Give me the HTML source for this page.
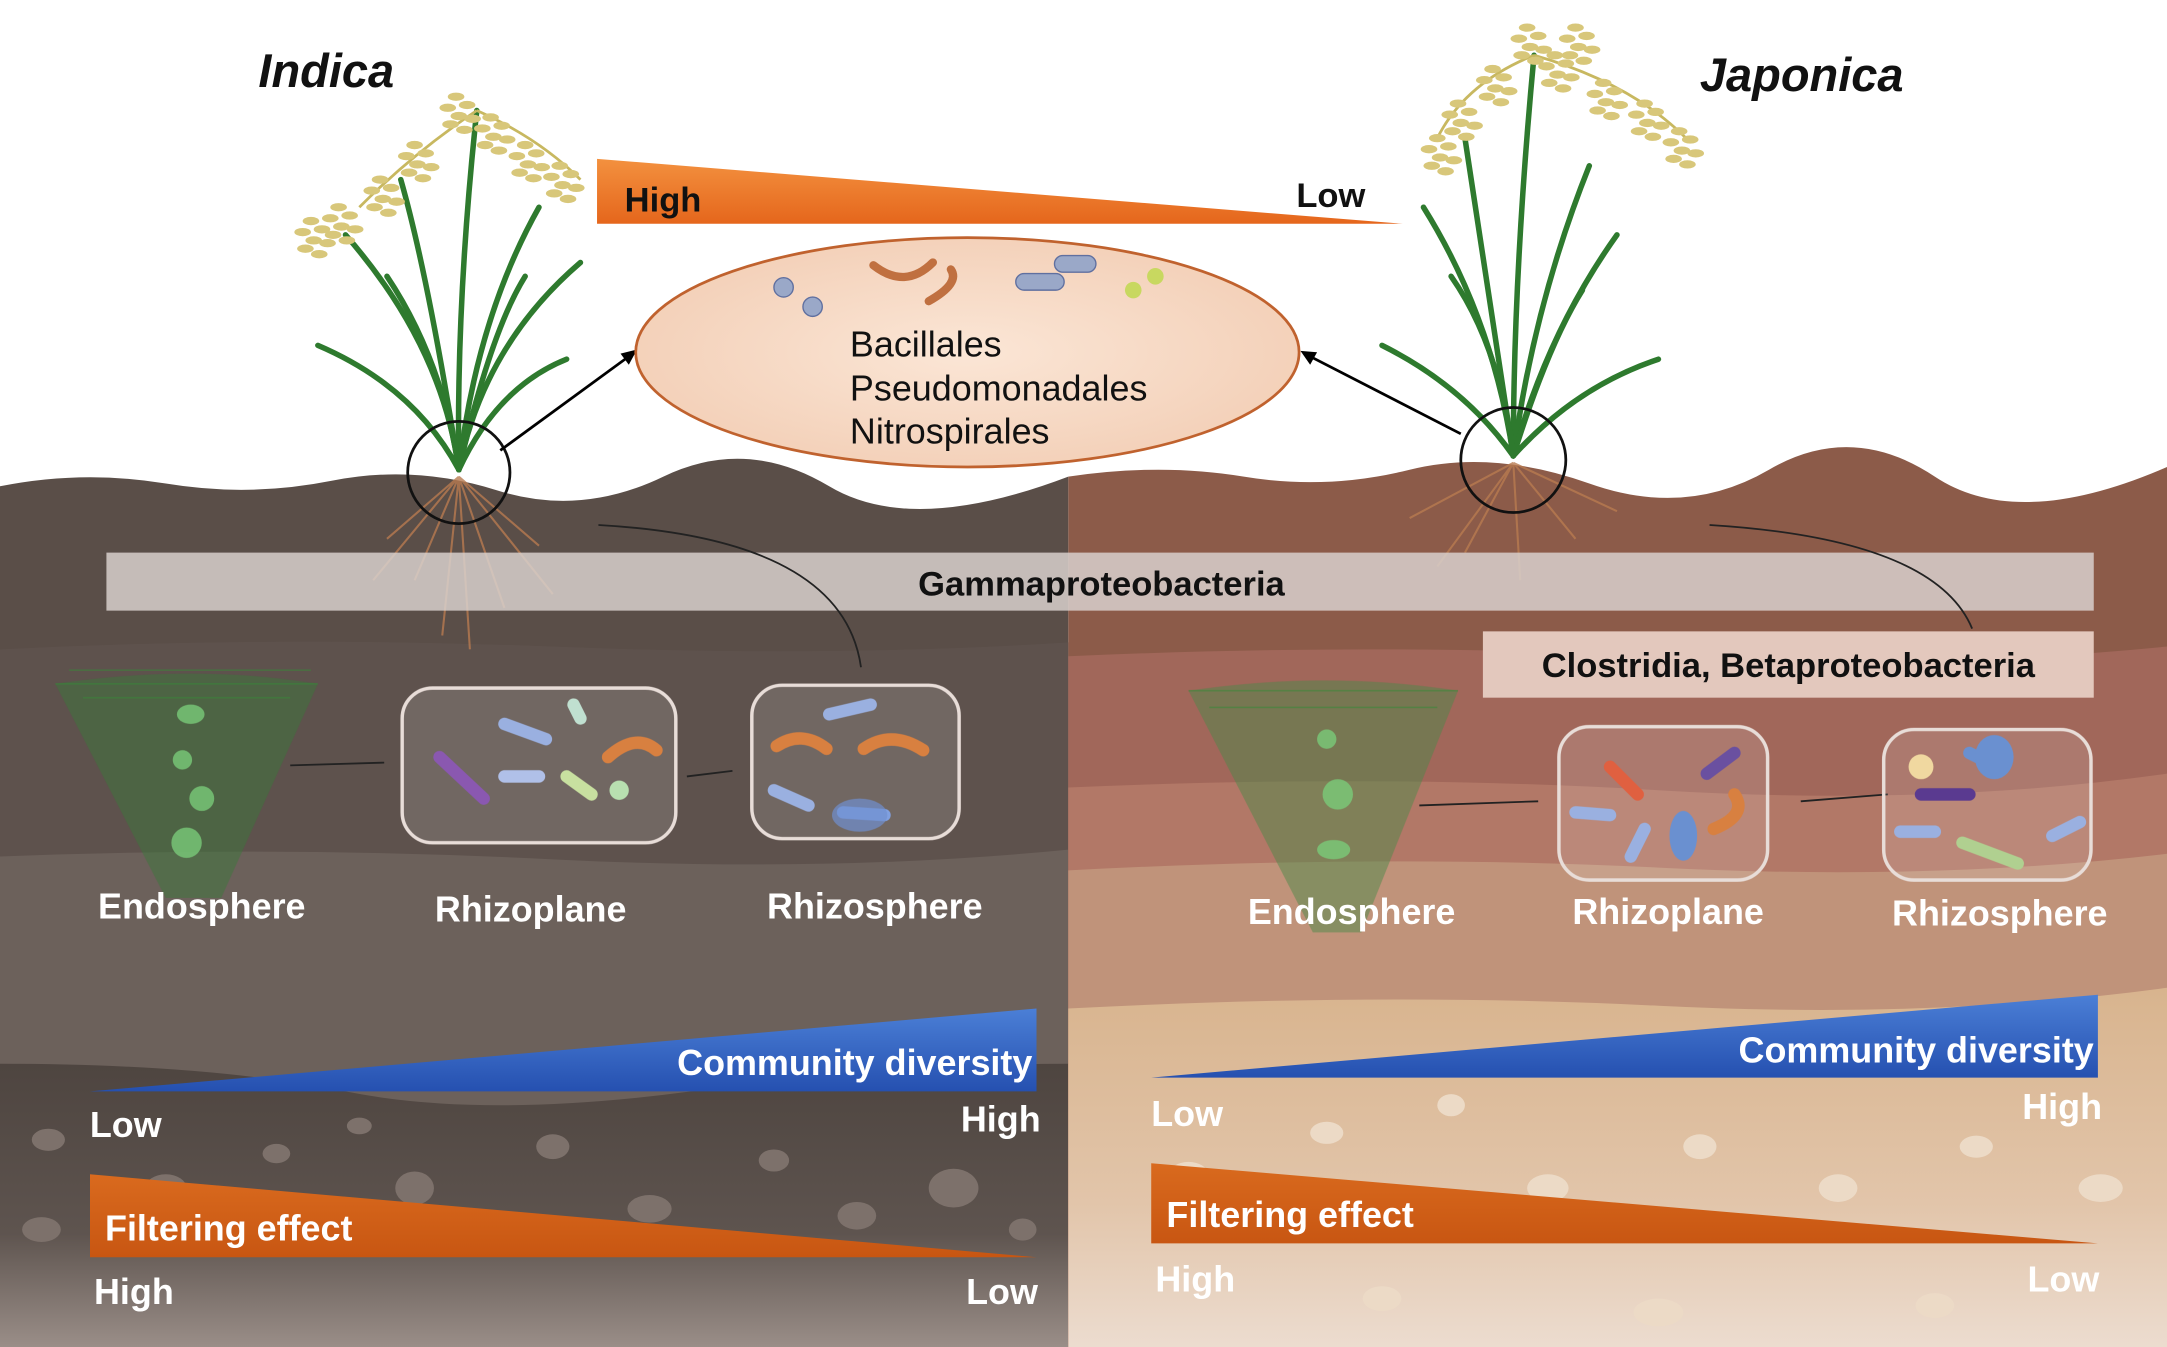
<!DOCTYPE html>
<html><head><meta charset="utf-8"><style>
html,body{margin:0;padding:0;background:#fff}
svg{display:block}
text{font-family:"Liberation Sans",Arial,sans-serif}
.w{fill:#fff;font-weight:bold;font-size:26px}
</style></head><body>
<svg width="2167" height="1347" viewBox="0 0 1568 975" preserveAspectRatio="none" xmlns="http://www.w3.org/2000/svg">
<defs>
<linearGradient id="or" x1="0" y1="0" x2="0" y2="1"><stop offset="0" stop-color="#f3913f"/><stop offset="1" stop-color="#e5661c"/></linearGradient>
<linearGradient id="or2" x1="0" y1="0" x2="0" y2="1"><stop offset="0" stop-color="#d96a1e"/><stop offset="1" stop-color="#c85612"/></linearGradient>
<linearGradient id="bl" x1="0" y1="0" x2="0" y2="1"><stop offset="0" stop-color="#4b7fd6"/><stop offset="1" stop-color="#2550b0"/></linearGradient>
<linearGradient id="lb" x1="0" y1="0" x2="0" y2="1"><stop offset="0" stop-color="#4e4540"/><stop offset="0.6" stop-color="#5e544f"/><stop offset="1" stop-color="#9a8e88"/></linearGradient>
<linearGradient id="rb" x1="0" y1="0" x2="0" y2="1"><stop offset="0" stop-color="#d8b48e"/><stop offset="0.6" stop-color="#e2c5aa"/><stop offset="1" stop-color="#ecdccf"/></linearGradient>
<radialGradient id="el" cx="0.5" cy="0.5" r="0.6"><stop offset="0" stop-color="#fbe6d6"/><stop offset="1" stop-color="#f2cdb4"/></radialGradient>
<g id="pan" fill="#d8c77a"><ellipse cx="0" cy="0" rx="6" ry="3"/><ellipse cx="8" cy="6" rx="6" ry="3"/><ellipse cx="-6" cy="8" rx="6" ry="3"/><ellipse cx="2" cy="14" rx="6" ry="3"/><ellipse cx="12" cy="16" rx="6" ry="3"/><ellipse cx="-4" cy="20" rx="6" ry="3"/><ellipse cx="6" cy="24" rx="6" ry="3"/></g>
</defs>
<rect width="1568" height="975" fill="#fff"/>
<path d="M0 352 Q60 340 120 350 T240 348 T360 355 T480 345 T600 352 T773 345 L773 975 L0 975Z" fill="#5a4e48"/>
<path d="M0 470 Q200 460 400 468 T773 465 L773 975 L0 975Z" fill="#5e524d"/>
<path d="M0 620 Q200 612 400 622 T773 615 L773 975 L0 975Z" fill="#6c615b"/>
<path d="M0 770 Q150 770 250 790 T500 790 T773 770 L773 975 L0 975Z" fill="url(#lb)"/>
<g fill="#7d716b">
<ellipse cx="35" cy="825" rx="12" ry="8"/><ellipse cx="120" cy="860" rx="15" ry="10"/><ellipse cx="200" cy="835" rx="10" ry="7"/><ellipse cx="300" cy="860" rx="14" ry="12"/><ellipse cx="400" cy="830" rx="12" ry="9"/><ellipse cx="470" cy="875" rx="16" ry="10"/><ellipse cx="560" cy="840" rx="11" ry="8"/><ellipse cx="620" cy="880" rx="14" ry="10"/><ellipse cx="690" cy="860" rx="18" ry="14"/><ellipse cx="740" cy="890" rx="10" ry="8"/><ellipse cx="30" cy="890" rx="14" ry="9"/><ellipse cx="260" cy="815" rx="9" ry="6"/>
</g>
<path d="M773 345 Q840 335 900 345 T1020 340 T1150 350 T1280 340 T1400 345 T1568 338 L1568 975 L773 975Z" fill="#8c5b49"/>
<path d="M773 475 Q1000 465 1200 475 T1568 468 L1568 975 L773 975Z" fill="#a1675a"/>
<path d="M773 570 Q1000 560 1200 572 T1568 560 L1568 975 L773 975Z" fill="#b27867"/>
<path d="M773 630 Q1000 618 1200 628 T1568 618 L1568 975 L773 975Z" fill="#c0937a"/>
<path d="M773 730 Q1000 718 1200 728 T1568 715 L1568 975 L773 975Z" fill="url(#rb)"/>
<g fill="#ecdac6">
<ellipse cx="860" cy="850" rx="14" ry="9"/><ellipse cx="960" cy="820" rx="12" ry="8"/><ellipse cx="1050" cy="800" rx="10" ry="8"/><ellipse cx="1120" cy="860" rx="15" ry="10"/><ellipse cx="1230" cy="830" rx="12" ry="9"/><ellipse cx="1330" cy="860" rx="14" ry="10"/><ellipse cx="1430" cy="830" rx="12" ry="8"/><ellipse cx="1520" cy="860" rx="16" ry="10"/><ellipse cx="1000" cy="940" rx="14" ry="9"/><ellipse cx="1200" cy="950" rx="18" ry="10"/><ellipse cx="1400" cy="945" rx="14" ry="9"/>
</g>
<g stroke="#b87a50" stroke-width="1.5" fill="none" opacity="0.8">
<path d="M332 345 L300 420 M332 345 L340 470 M332 345 L365 440 M332 345 L280 390 M332 345 L390 395 M332 345 L320 460 M332 345 L270 420 M332 345 L400 430"/>
<path d="M1095 335 L1060 400 M1095 335 L1100 420 M1095 335 L1140 390 M1095 335 L1020 375 M1095 335 L1170 370 M1095 335 L1040 410"/>
</g>
<!-- plants -->
<g stroke="#2e7a2e" stroke-width="4" fill="none" stroke-linecap="round">
<path d="M332 340 Q320 250 250 170"/><path d="M332 340 Q330 220 345 80"/><path d="M332 340 Q350 250 420 190"/><path d="M332 340 Q300 280 230 250"/><path d="M332 340 Q360 280 410 260"/><path d="M332 340 Q310 200 290 130"/><path d="M332 340 Q345 230 390 150"/><path d="M332 340 Q320 260 280 200"/><path d="M332 340 Q355 240 380 200"/>
<path d="M1095 330 Q1080 230 1030 150"/><path d="M1095 330 Q1095 200 1110 40"/><path d="M1095 330 Q1120 240 1170 170"/><path d="M1095 330 Q1060 280 1000 250"/><path d="M1095 330 Q1140 280 1200 260"/><path d="M1095 330 Q1075 200 1060 100"/><path d="M1095 330 Q1110 220 1150 120"/><path d="M1095 330 Q1085 250 1050 200"/><path d="M1095 330 Q1120 250 1145 210"/>
</g>
<g stroke="#c8b860" stroke-width="2" fill="none"><path d="M345 80 Q300 110 260 150"/><path d="M345 80 Q390 100 420 130"/><path d="M1110 40 Q1060 60 1040 100"/><path d="M1110 40 Q1180 60 1220 100"/></g>
<use href="#pan" x="330" y="70"/><use href="#pan" x="355" y="85"/><use href="#pan" x="300" y="105"/><use href="#pan" x="275" y="130"/><use href="#pan" x="245" y="150"/><use href="#pan" x="380" y="105"/><use href="#pan" x="405" y="120"/><use href="#pan" x="225" y="160"/>
<use href="#pan" x="1105" y="20"/><use href="#pan" x="1125" y="40"/><use href="#pan" x="1080" y="50"/><use href="#pan" x="1055" y="75"/><use href="#pan" x="1040" y="100"/><use href="#pan" x="1160" y="60"/><use href="#pan" x="1190" y="75"/><use href="#pan" x="1215" y="95"/><use href="#pan" x="1140" y="20"/>
<circle cx="332" cy="342" r="37" fill="none" stroke="#111" stroke-width="2"/>
<circle cx="1095" cy="333" r="38" fill="none" stroke="#111" stroke-width="2"/>
<g stroke="#000" stroke-width="2"><line x1="362" y1="326" x2="455" y2="258"/><line x1="1057" y1="314" x2="948" y2="258"/></g>
<polygon points="461,253 449,256 455,264" fill="#000"/><polygon points="941,254 948,264 953,255" fill="#000"/>
<ellipse cx="700" cy="255" rx="240" ry="83" fill="url(#el)" stroke="#c0622e" stroke-width="2"/>
<g fill="#9aa8c8" stroke="#6070a0"><circle cx="567" cy="208" r="7"/><circle cx="588" cy="222" r="7"/><rect x="735" y="198" width="35" height="12" rx="6"/><rect x="763" y="185" width="30" height="12" rx="6"/></g>
<g fill="none" stroke="#c07040" stroke-width="6" stroke-linecap="round"><path d="M632 192 Q655 210 675 190"/><path d="M672 218 Q695 205 688 195"/></g>
<circle cx="820" cy="210" r="6" fill="#c8d860"/><circle cx="836" cy="200" r="6" fill="#c8d860"/>
<text x="615" y="258" font-size="26" fill="#111">Bacillales</text>
<text x="615" y="290" font-size="26" fill="#111">Pseudomonadales</text>
<text x="615" y="321" font-size="26" fill="#111">Nitrospirales</text>
<polygon points="432,115 432,162 1015,162" fill="url(#or)"/>
<text x="452" y="153" font-size="25" font-weight="bold" fill="#111">High</text>
<text x="938" y="150" font-size="25" font-weight="bold" fill="#111">Low</text>
<text x="187" y="63" font-size="34" font-weight="bold" font-style="italic" fill="#111">Indica</text>
<text x="1230" y="66" font-size="34" font-weight="bold" font-style="italic" fill="#111">Japonica</text>
<rect x="77" y="400" width="1438" height="42" fill="#d8d0cc" opacity="0.85"/>
<text x="797" y="431" font-size="25" font-weight="bold" fill="#111" text-anchor="middle">Gammaproteobacteria</text>
<rect x="1073" y="457" width="442" height="48" fill="#e3c8bd"/>
<text x="1294" y="490" font-size="25" font-weight="bold" fill="#111" text-anchor="middle">Clostridia, Betaproteobacteria</text>
<g fill="none" stroke="#222" stroke-width="1.3">
<path d="M433 380 Q610 390 623 483"/><path d="M1237 380 Q1400 390 1427 455"/>
<path d="M210 554 L278 552"/><path d="M497 562 L530 558"/><path d="M1027 583 L1113 580"/><path d="M1303 580 L1366 575"/>
</g>
<g opacity="0.8"><path d="M40 495 Q140 480 230 495 L160 650 L120 650Z" fill="#3a7a3a" opacity="0.6"/>
<path d="M860 500 Q960 485 1055 500 L985 675 L950 675Z" fill="#4a8a4a" opacity="0.6"/></g>
<g stroke="#3a8a3a" stroke-width="1" opacity="0.6"><path d="M40 495 L230 495 M60 505 L210 505 M50 485 L225 485"/><path d="M860 500 L1055 500 M875 512 L1040 512"/></g>
<g fill="#7acb7a" opacity="0.8"><ellipse cx="138" cy="517" rx="10" ry="7"/><circle cx="132" cy="550" r="7"/><circle cx="146" cy="578" r="9"/><circle cx="135" cy="610" r="11"/>
<circle cx="960" cy="535" r="7"/><circle cx="968" cy="575" r="11"/><ellipse cx="965" cy="615" rx="12" ry="7"/></g>
<g fill="rgba(255,255,255,0.12)" stroke="#e8ddd8" stroke-width="2.5">
<rect x="291" y="498" width="198" height="112" rx="22"/><rect x="544" y="496" width="150" height="111" rx="22"/>
<rect x="1128" y="526" width="151" height="111" rx="22"/><rect x="1363" y="528" width="150" height="109" rx="22"/>
</g>
<g stroke-linecap="round" fill="none" stroke-width="9">
<path d="M318 548 L350 578" stroke="#8a58b0"/><path d="M365 524 L395 535" stroke="#9ab0e0"/><path d="M440 548 Q460 530 475 543" stroke="#d88040"/><path d="M410 562 L428 575" stroke="#c8e0a0"/><path d="M365 562 L390 562" stroke="#b0c0e8"/><path d="M415 510 L420 520" stroke="#c0e0d0"/>
<path d="M562 540 Q580 528 598 542" stroke="#d88040"/><path d="M625 542 Q645 528 668 543" stroke="#d88040"/><path d="M560 572 L585 583" stroke="#9ab0e0"/><path d="M600 517 L630 510" stroke="#9ab0e0"/><path d="M610 588 L640 590" stroke="#80a0e0"/>
<path d="M1140 588 L1165 590" stroke="#9ab0e0"/><path d="M1165 555 L1185 575" stroke="#e06040"/><path d="M1180 620 L1190 600" stroke="#9ab0e0"/><path d="M1240 600 Q1265 590 1255 575" stroke="#d88040"/><path d="M1235 560 L1255 545" stroke="#6a50a0"/>
<path d="M1390 575 L1425 575" stroke="#5a3a90"/><path d="M1425 545 L1445 555" stroke="#6a90d0"/><path d="M1420 610 L1460 625" stroke="#b0d090"/><path d="M1375 602 L1400 602" stroke="#9ab0e0"/><path d="M1485 605 L1505 595" stroke="#9ab0e0"/>
</g>
<ellipse cx="1218" cy="605" rx="10" ry="18" fill="#6a90d0"/><ellipse cx="1443" cy="548" rx="14" ry="16" fill="#6a90d0"/><circle cx="1390" cy="555" r="9" fill="#f0d8a0"/><circle cx="448" cy="572" r="7" fill="#b8e0b0"/><ellipse cx="622" cy="590" rx="20" ry="12" fill="#7090d0" opacity="0.7"/>
<text class="w" x="146" y="665" text-anchor="middle">Endosphere</text>
<text class="w" x="384" y="667" text-anchor="middle">Rhizoplane</text>
<text class="w" x="633" y="665" text-anchor="middle">Rhizosphere</text>
<text class="w" x="978" y="669" text-anchor="middle">Endosphere</text>
<text class="w" x="1207" y="669" text-anchor="middle">Rhizoplane</text>
<text class="w" x="1447" y="670" text-anchor="middle">Rhizosphere</text>
<polygon points="65,790 750,730 750,790" fill="url(#bl)"/>
<text class="w" x="747" y="778" text-anchor="end">Community diversity</text>
<text class="w" x="65" y="823">Low</text><text class="w" x="753" y="819" text-anchor="end">High</text>
<polygon points="833,780 1518,720 1518,780" fill="url(#bl)"/>
<text class="w" x="1515" y="769" text-anchor="end">Community diversity</text>
<text class="w" x="833" y="815">Low</text><text class="w" x="1521" y="810" text-anchor="end">High</text>
<polygon points="65,850 65,910 750,910" fill="url(#or2)"/>
<text class="w" x="76" y="898">Filtering effect</text>
<text class="w" x="68" y="944">High</text><text class="w" x="751" y="944" text-anchor="end">Low</text>
<polygon points="833,842 833,900 1518,900" fill="url(#or2)"/>
<text class="w" x="844" y="888">Filtering effect</text>
<text class="w" x="836" y="935">High</text><text class="w" x="1519" y="935" text-anchor="end">Low</text>
</svg>
</body></html>
